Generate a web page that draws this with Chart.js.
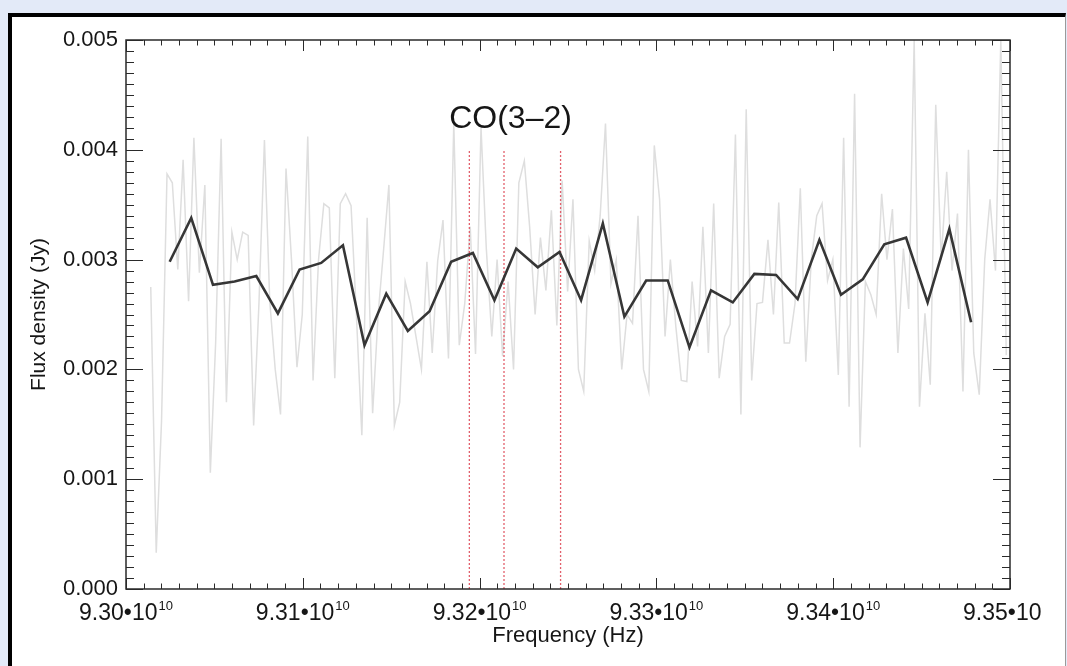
<!DOCTYPE html>
<html>
<head>
<meta charset="utf-8">
<script src="https://cdn.jsdelivr.net/npm/chart.js@4.4.1/dist/chart.umd.min.js"></script>
<style>
  html, body { margin: 0; padding: 0; width: 1067px; height: 666px; overflow: hidden; background: #e3eaf8; }
  #frame { position: absolute; left: 8px; top: 13px; width: 1053px; height: 700px; background: #fff;
           border-left: 4px solid #000; border-top: 4px solid #000; border-right: 1px solid #9a9a9a; }
  #wrap { position: absolute; left: 0; top: 0; }
</style>
</head>
<body>
<div id="frame"></div>
<div id="wrap"><canvas id="chart" width="1067" height="666"></canvas></div>
<script>
// ─── DATA ─────────────────────────────────────────────────────────────────────
// binned spectrum (black), frequency in GHz, flux in Jy
const binGHz = [93.0247,93.0369,93.0492,93.0614,93.0737,93.0859,93.0982,93.1104,93.1227,93.1349,
  93.1472,93.1594,93.1717,93.1839,93.1962,93.2084,93.2207,93.2329,93.2452,93.2574,
  93.2697,93.2819,93.2942,93.3064,93.3187,93.3309,93.3432,93.3554,93.3677,93.3799,
  93.3922,93.4044,93.4167,93.4289,93.4412,93.4534,93.4657,93.4780];
const binFlux = [0.00298,0.00338,0.00277,0.00280,0.00285,0.00251,0.00291,0.00297,0.00313,0.00222,
  0.00269,0.00235,0.00253,0.00298,0.00306,0.00263,0.00310,0.00293,0.00307,0.00263,
  0.00333,0.00248,0.00281,0.00281,0.00220,0.00272,0.00261,0.00287,0.00286,0.00264,
  0.00318,0.00268,0.00282,0.00314,0.00320,0.00261,0.00328,0.00243];

// full-resolution channels (light grey)
const chanGHz = [93.0140,93.0171,
  93.0201,93.0232,93.0262,93.0293, 93.0323,93.0354,93.0384,93.0415, 93.0446,93.0477,93.0507,93.0538,
  93.0568,93.0599,93.0629,93.0660, 93.0691,93.0722,93.0752,93.0783, 93.0813,93.0844,93.0874,93.0905,
  93.0936,93.0967,93.0997,93.1028, 93.1058,93.1089,93.1119,93.1150, 93.1181,93.1212,93.1242,93.1273,
  93.1303,93.1334,93.1364,93.1395, 93.1426,93.1457,93.1487,93.1518, 93.1548,93.1579,93.1609,93.1640,
  93.1671,93.1702,93.1732,93.1763, 93.1793,93.1824,93.1854,93.1885, 93.1916,93.1947,93.1977,93.2008,
  93.2038,93.2069,93.2099,93.2130, 93.2161,93.2192,93.2222,93.2253, 93.2283,93.2314,93.2344,93.2375,
  93.2406,93.2437,93.2467,93.2498, 93.2528,93.2559,93.2589,93.2620, 93.2651,93.2682,93.2712,93.2743,
  93.2773,93.2804,93.2834,93.2865, 93.2896,93.2927,93.2957,93.2988, 93.3018,93.3049,93.3079,93.3110,
  93.3141,93.3172,93.3202,93.3233, 93.3263,93.3294,93.3324,93.3355, 93.3386,93.3417,93.3447,93.3478,
  93.3508,93.3539,93.3569,93.3600, 93.3631,93.3662,93.3692,93.3723, 93.3753,93.3784,93.3814,93.3845,
  93.3876,93.3907,93.3937,93.3968, 93.3998,93.4029,93.4059,93.4090, 93.4121,93.4152,93.4182,93.4213,
  93.4243,93.4274,93.4304,93.4335, 93.4366,93.4397,93.4427,93.4458, 93.4488,93.4519,93.4549,93.4580,
  93.4611,93.4642,93.4672,93.4703, 93.4734,93.4765,93.4795,93.4826,
  93.4857,93.4887,93.4918,93.4948,93.4979];
const chanFlux = [0.00275,0.00033,
  0.00153,0.00378,0.00370,0.00291, 0.00391,0.00262,0.00411,0.00288, 0.00368,0.00106,0.00224,0.00410,
  0.00170,0.00325,0.00300,0.00325, 0.00322,0.00149,0.00260,0.00409, 0.00262,0.00200,0.00159,0.00383,
  0.00300,0.00202,0.00250,0.00412, 0.00190,0.00300,0.00351,0.00347, 0.00192,0.00351,0.00360,0.00349,
  0.00250,0.00140,0.00338,0.00160, 0.00250,0.00309,0.00368,0.00149, 0.00170,0.00280,0.00260,0.00230,
  0.00200,0.00298,0.00215,0.00299, 0.00336,0.00210,0.00424,0.00222, 0.00260,0.00330,0.00214,0.00420,
  0.00310,0.00230,0.00300,0.00212, 0.00280,0.00200,0.00370,0.00390, 0.00330,0.00250,0.00320,0.00272,
  0.00345,0.00240,0.00372,0.00271, 0.00355,0.00200,0.00180,0.00317, 0.00290,0.00340,0.00424,0.00278,
  0.00300,0.00200,0.00250,0.00242, 0.00340,0.00200,0.00180,0.00404, 0.00355,0.00230,0.00300,0.00239,
  0.00190,0.00189,0.00280,0.00221, 0.00330,0.00215,0.00351,0.00192, 0.00230,0.00241,0.00414,0.00159,
  0.00437,0.00190,0.00260,0.00261, 0.00318,0.00250,0.00352,0.00224, 0.00224,0.00260,0.00365,0.00207,
  0.00300,0.00340,0.00351,0.00281, 0.00300,0.00195,0.00411,0.00166, 0.00451,0.00129,0.00280,0.00268,
  0.00250,0.00360,0.00300,0.00346, 0.00215,0.00310,0.00255,0.00500, 0.00166,0.00251,0.00186,0.00441,
  0.00300,0.00380,0.00290,0.00342, 0.00180,0.00400,0.00215,0.00177,
  0.00300,0.00355,0.00290,0.00500,0.00213];

// CO(3-2) marker lines
const lineGHz = [93.1942, 93.2138, 93.2458];
const lineTop = 0.0040;
const lineLabel = 'CO(3–2)';
const labelAt = [93.2175, 0.00420];

// axes
const xTicks = [93.0, 93.1, 93.2, 93.3, 93.4, 93.5];
const xTickText = ['9.30•10', '9.31•10', '9.32•10', '9.33•10', '9.34•10', '9.35•10'];
const xTickExp = ['10', '10', '10', '10', '10', ''];
const yTicks = [0, 0.001, 0.002, 0.003, 0.004, 0.005];

const FONT = '"Liberation Sans", Arial, Helvetica, sans-serif';
const INK = '#161616';

const pts = (xs, ys) => xs.map((x, i) => ({ x, y: ys[i] }));

// ─── FRAME, TICKS, LABELS ─────────────────────────────────────────────────────
const idlAxes = {
  id: 'idlAxes',
  afterDraw(chart) {
    const { ctx, chartArea: a, scales: { x, y } } = chart;
    ctx.save();
    ctx.strokeStyle = '#2a2a2a';
    ctx.lineWidth = 1.5;
    ctx.strokeRect(a.left, a.top, a.right - a.left, a.bottom - a.top);

    ctx.lineWidth = 1;
    ctx.beginPath();
    for (let k = 0; k <= 50; k++) {
      const px = Math.round(x.getPixelForValue(93.0 + k * 0.01)) + 0.5;
      const len = k % 10 === 0 ? 11 : 5.5;
      ctx.moveTo(px, a.bottom); ctx.lineTo(px, a.bottom - len);
      ctx.moveTo(px, a.top); ctx.lineTo(px, a.top + len);
    }
    for (let k = 0; k <= 50; k++) {
      const py = Math.round(y.getPixelForValue(k * 0.0001)) + 0.5;
      const len = k % 10 === 0 ? 17 : 8;
      ctx.moveTo(a.left, py); ctx.lineTo(a.left + len, py);
      ctx.moveTo(a.right, py); ctx.lineTo(a.right - len, py);
    }
    ctx.stroke();

    // x tick labels with exponent
    ctx.fillStyle = INK;
    ctx.textAlign = 'left';
    ctx.textBaseline = 'alphabetic';
    const base = a.bottom + 31;
    xTicks.forEach((v, i) => {
      const px = x.getPixelForValue(v);
      ctx.font = '23px ' + FONT;
      const w1 = ctx.measureText(xTickText[i]).width;
      ctx.font = '13px ' + FONT;
      const w2 = ctx.measureText('10').width + 1;
      const sx = px - (w1 + w2) / 2;
      ctx.font = '23px ' + FONT;
      ctx.fillText(xTickText[i], sx, base);
      if (xTickExp[i]) {
        ctx.font = '13px ' + FONT;
        ctx.fillText(xTickExp[i], sx + w1 + 1, base - 10);
      }
    });

    // line label
    ctx.font = '32px ' + FONT;
    ctx.textAlign = 'center';
    ctx.fillText(lineLabel, x.getPixelForValue(labelAt[0]), y.getPixelForValue(labelAt[1]));
    ctx.restore();
  }
};

// ─── CHART ────────────────────────────────────────────────────────────────────
const datasets = [
  { data: pts(binGHz, binFlux), borderColor: '#363636', borderWidth: 2.6, pointRadius: 0 },
  ...lineGHz.map(f => ({
    data: [{ x: f, y: 0 }, { x: f, y: lineTop }],
    borderColor: '#e2606c', borderWidth: 1.3, borderDash: [2, 2], pointRadius: 0
  })),
  { data: pts(chanGHz, chanFlux), borderColor: '#dedede', borderWidth: 1.5, pointRadius: 0 }
];

new Chart(document.getElementById('chart'), {
  type: 'line',
  data: { datasets },
  options: {
    responsive: false,
    animation: false,
    layout: { padding: { left: 0, top: 40, right: 57, bottom: 0 } },
    plugins: { legend: { display: false }, tooltip: { enabled: false } },
    scales: {
      x: {
        type: 'linear', min: 93.0, max: 93.5,
        ticks: { display: false, stepSize: 0.1 },
        grid: { display: false, drawTicks: false }, border: { display: false },
        title: { display: true, text: 'Frequency (Hz)', color: INK, font: { family: FONT, size: 22 }, padding: { top: 0, bottom: 17 } },
        afterFit: s => { s.height = 77; }
      },
      y: {
        type: 'linear', min: 0, max: 0.005,
        afterBuildTicks: s => { s.ticks = yTicks.map(v => ({ value: v })); },
        ticks: { callback: v => v.toFixed(3), color: INK, font: { family: FONT, size: 22 }, padding: 8 },
        grid: { display: false, drawTicks: false }, border: { display: false },
        title: { display: true, text: 'Flux density (Jy)', color: INK, font: { family: FONT, size: 21 }, padding: { top: 27, bottom: 0 } },
        afterFit: s => { s.width = 126; }
      }
    }
  },
  plugins: [idlAxes]
});
</script>
</body>
</html>
